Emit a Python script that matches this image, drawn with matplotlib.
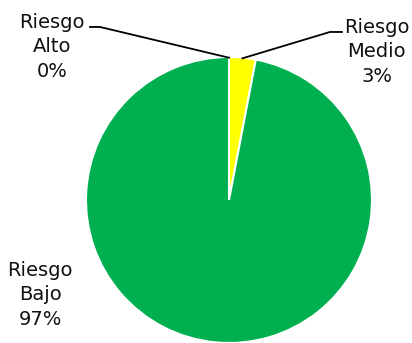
import numpy as np
import matplotlib.pyplot as plt

# Risk distribution
categorias = ['Riesgo\nAlto', 'Riesgo\nMedio', 'Riesgo\nBajo']
valores = [0, 3, 97]
colores = ['#C00000', '#FFFF00', '#00B050']

fig = plt.figure(figsize=(4.12, 3.43), dpi=100)
ax = fig.add_axes([86 / 412, 0, 286 / 412, 286 / 343])

wedges, _ = ax.pie(valores, colors=colores, startangle=90, counterclock=False,
                   radius=1.0, wedgeprops=dict(edgecolor='white', linewidth=1.5))
ax.set_xlim(-1, 1)
ax.set_ylim(-1, 1)
ax.set_aspect('equal')
ax.axis('off')

# label text positions and elbow of leader lines (data units, radius = 1)
text_pos = [(-1.238, 1.07), (1.032, 1.035), (-1.32, -0.664)]
elbows = [((-0.902, 1.21), (-0.972, 1.21)), ((0.706, 1.175), (0.79, 1.175)), None]

total = sum(valores)
ang = 90.0
for nombre, v, pos, elbow in zip(categorias, valores, text_pos, elbows):
    pct = 100 * v / total
    mid = np.deg2rad(ang - 360 * v / total / 2)
    ang -= 360 * v / total
    ax.text(pos[0], pos[1], f"{nombre}\n{pct:.0f}%", ha='center', va='center',
            fontsize=14, family='DejaVu Sans', linespacing=1.38, color='#111111')
    if elbow:
        x0, y0 = np.cos(mid) * 0.995, np.sin(mid) * 0.995
        xs = [x0, elbow[0][0], elbow[1][0]]
        ys = [y0, elbow[0][1], elbow[1][1]]
        ax.plot(xs, ys, color='black', linewidth=1.3, clip_on=False)

fig.savefig('out.png', dpi=100)
